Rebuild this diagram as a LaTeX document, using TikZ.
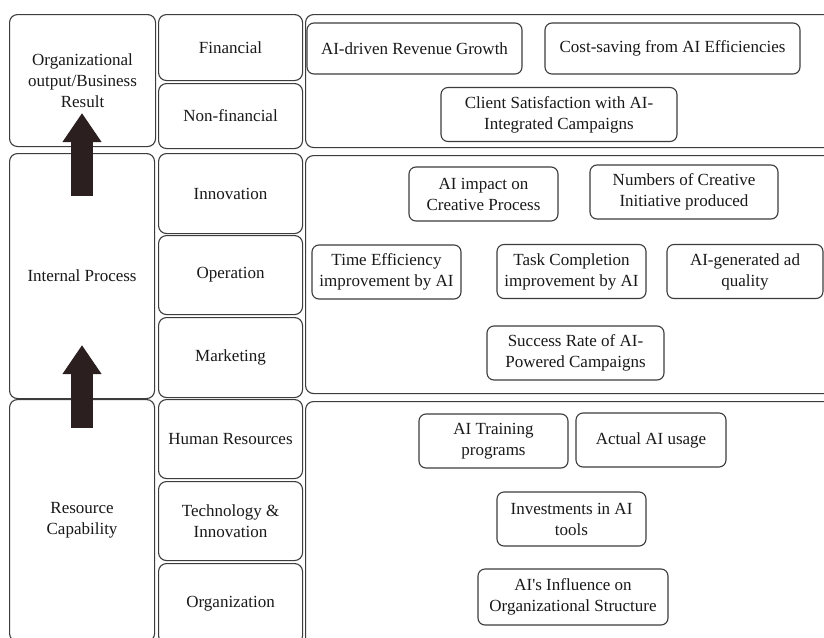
\documentclass[tikz,border=0pt]{standalone}
\usepackage{fontspec}
\setmainfont{Liberation Serif}
\usetikzlibrary{arrows.meta}
\definecolor{boxline}{HTML}{3C3C3C}
\definecolor{arrowbrown}{HTML}{2B1F1F}
\begin{document}
\begin{tikzpicture}[x=1pt,y=-1pt,
  every node/.style={font=\fontsize{17}{21}\selectfont, text=black!90},
  panel/.style={draw=boxline, line width=1.1pt, rounded corners=8pt, anchor=north west, inner sep=0pt, align=center},
  kpi/.style={draw=boxline, line width=1.1pt, rounded corners=7pt, inner sep=0pt, align=center, minimum height=54pt},
  uparrow/.style={arrowbrown, line width=22pt, -{Triangle[width=37pt,length=29pt]}}]
  \useasboundingbox (0,0) rectangle (824,637);
  \clip (0,0) rectangle (824,637);
  \fill[white] (0,0) rectangle (824,637);
  \node[panel, minimum width=146pt, minimum height=132pt] (orgout) at (9,14) {Organizational\\output/Business\\Result};
  \node[panel, minimum width=145pt, minimum height=245pt] (intproc) at (9,153) {Internal Process};
  \node[panel, minimum width=145pt, minimum height=242pt] (rescap) at (9,399) {Resource\\Capability};
  \node[panel, minimum width=144pt, minimum height=66pt] (fin) at (158,14) {Financial};
  \node[panel, minimum width=144pt, minimum height=65pt] (nonfin) at (158,83) {Non-financial};
  \node[panel, minimum width=144pt, minimum height=80pt] (innov) at (158,153) {Innovation};
  \node[panel, minimum width=144pt, minimum height=79pt] (oper) at (158,235) {Operation};
  \node[panel, minimum width=144pt, minimum height=80pt] (mark) at (158,317) {Marketing};
  \node[panel, minimum width=144pt, minimum height=79pt] (hres) at (158,399) {Human Resources};
  \node[panel, minimum width=144pt, minimum height=79pt] (techinn) at (158,481) {Technology \&\\Innovation};
  \node[panel, minimum width=144pt, minimum height=80pt] (organiz) at (158,563) {Organization};
  \node[panel, minimum width=530pt, minimum height=133pt] (resultpanel) at (305,14) {};
  \node[panel, minimum width=530pt, minimum height=238pt] (processpanel) at (305,155) {};
  \node[panel, minimum width=530pt, minimum height=245pt] (resourcepanel) at (305,401) {};
  \node[kpi, minimum width=215pt, minimum height=51pt] (revgrowth) at (414.5,48.5) {AI-driven Revenue Growth};
  \node[kpi, minimum width=255pt, minimum height=51pt] (costsave) at (672.5,48.5) {Cost-saving from AI Efficiencies};
  \node[kpi, minimum width=236pt] (clientsat) at (559,114.5) {Client Satisfaction with AI-\\Integrated Campaigns};
  \node[kpi, minimum width=149pt] (aiimpact) at (483.5,194) {AI impact on\\Creative Process};
  \node[kpi, minimum width=188pt] (creative) at (684,192) {Numbers of Creative\\Initiative produced};
  \node[kpi, minimum width=149pt] (timeeff) at (386.5,272) {Time Efficiency\\improvement by AI};
  \node[kpi, minimum width=149pt] (taskcomp) at (571.5,271.5) {Task Completion\\improvement by AI};
  \node[kpi, minimum width=156pt] (adquality) at (745,271.5) {AI-generated ad\\quality};
  \node[kpi, minimum width=177pt] (successrate) at (575.5,353) {Success Rate of AI-\\Powered Campaigns};
  \node[kpi, minimum width=149pt] (training) at (493.5,441) {AI Training\\programs};
  \node[kpi, minimum width=150pt] (usage) at (651,440) {Actual AI usage};
  \node[kpi, minimum width=149pt] (invest) at (571.5,519) {Investments in AI\\tools};
  \node[kpi, minimum width=190pt, minimum height=56pt] (influence) at (573,597) {AI\textquotesingle s Influence on\\Organizational Structure};
  \coordinate (lowtail) at (82,428);
  \coordinate (lowtip) at (82,345);
  \coordinate (hightail) at (82,196);
  \coordinate (hightip) at (82,113);
  \draw[uparrow] (lowtail) -- (lowtip);
  \draw[uparrow] (hightail) -- (hightip);
\end{tikzpicture}
\end{document}
